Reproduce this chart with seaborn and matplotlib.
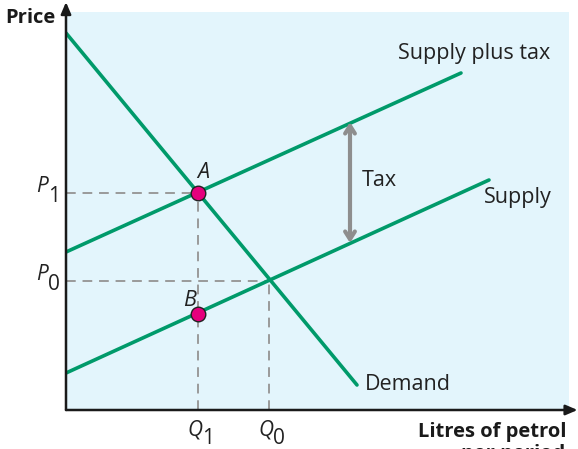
import pandas as pd
import matplotlib.pyplot as plt
import seaborn as sns

# 데이터 (그림에서 읽은 값, 임의 단위)
demand_q = [0, 291]
demand_p = [377, 25]
supply_q = [0, 423]
supply_p = [37, 230]
tax_q = [0, 395]
tax_p = [158, 337]

q1, q0 = 132, 203
p1, p0 = 217, 129
point_names = ['A', 'B']
point_q = [q1, q1]
point_p = [p1, p1 - 121]

tax_arrow_q = 284
tax_arrow_p = [p1 + 71, p1 - 50]

x_ticks = [q1, q0]
x_tick_labels = [('Q', '1'), ('Q', '0')]
y_ticks = [p1, p0]
y_tick_labels = [('P', '1'), ('P', '0')]

sns.set_style('white')
plt.rcParams['font.family'] = ['Open Sans', 'DejaVu Sans']

green = '#009a6a'
grey = '#9a9a9a'
ink = '#222222'

fig = plt.figure(figsize=(5.78, 4.49), dpi=100)
ax = fig.add_axes([66 / 578, 39 / 449, 503 / 578, 398 / 449])
ax.set_facecolor('#e3f5fc')
ax.set_xlim(0, 503)
ax.set_ylim(0, 398)

# 점선
dash = dict(color=grey, lw=1.4, ls=(0, (5, 3.5)), zorder=1)
ax.plot([0, q1], [p1, p1], **dash)
ax.plot([q1, q1], [0, p1], **dash)
ax.plot([0, q0], [p0, p0], **dash)
ax.plot([q0, q0], [0, p0], **dash)

# 곡선
lines = pd.concat([
    pd.DataFrame({'line': 'Demand', 'q': demand_q, 'p': demand_p}),
    pd.DataFrame({'line': 'Supply', 'q': supply_q, 'p': supply_p}),
    pd.DataFrame({'line': 'Supply plus tax', 'q': tax_q, 'p': tax_p}),
])
for name, g in lines.groupby('line'):
    sns.lineplot(data=g, x='q', y='p', color=green, lw=2.6, ax=ax,
                 estimator=None, sort=False, zorder=2)

# 세금 화살표
ax.annotate('', xy=(tax_arrow_q, tax_arrow_p[0]), xytext=(tax_arrow_q, tax_arrow_p[1]),
            arrowprops=dict(arrowstyle='<->,head_length=0.55,head_width=0.35',
                            color='#8e8e8e', lw=3, shrinkA=0, shrinkB=0), zorder=2)

# 점 A, B
pts = pd.DataFrame({'name': point_names, 'q': point_q, 'p': point_p})
sns.scatterplot(data=pts, x='q', y='p', color='#e5007d', edgecolor='#222222',
                linewidth=1.0, s=110, ax=ax, zorder=3, legend=False)

txt = dict(fontsize=15.5, color=ink)
ax.text(332, 356, 'Supply plus tax', va='center', ha='left', **txt)
ax.text(418, 212, 'Supply', va='center', ha='left', **txt)
ax.text(299, 25, 'Demand', va='center', ha='left', **txt)
ax.text(296, 230, 'Tax', va='center', ha='left', **txt)
ax.text(137, 238, 'A', fontstyle='italic', va='center', ha='center', **txt)
ax.text(124, 110, 'B', fontstyle='italic', va='center', ha='center', **txt)

# 눈금 라벨 (기호 + 같은 크기의 아래첨자)
ax.set_xticks(x_ticks, [''] * len(x_ticks))
ax.set_yticks(y_ticks, [''] * len(y_ticks))
ax.tick_params(length=0)
for v, (sym, sub) in zip(y_ticks, y_tick_labels):
    tr = ax.get_yaxis_transform()
    ax.annotate(sym, xy=(0, v), xycoords=tr, xytext=(-18, 7), textcoords='offset pixels',
                ha='right', va='center', fontstyle='italic', fontsize=15, color=ink,
                annotation_clip=False)
    ax.annotate(sub, xy=(0, v), xycoords=tr, xytext=(-18, -4), textcoords='offset pixels',
                ha='left', va='center', fontsize=15, color=ink, annotation_clip=False)
for v, (sym, sub) in zip(x_ticks, x_tick_labels):
    tr = ax.get_xaxis_transform()
    ax.annotate(sym, xy=(v, 0), xycoords=tr, xytext=(4, -20), textcoords='offset pixels',
                ha='right', va='center', fontstyle='italic', fontsize=15, color=ink,
                annotation_clip=False)
    ax.annotate(sub, xy=(v, 0), xycoords=tr, xytext=(4, -29), textcoords='offset pixels',
                ha='left', va='center', fontsize=15, color=ink, annotation_clip=False)
ax.set_xlabel('')
ax.set_ylabel('')
for s in ax.spines.values():
    s.set_visible(False)

# 축 화살표
arrow = dict(arrowstyle='-|>,head_length=0.7,head_width=0.3', color='#1a1a1a',
             lw=1.8, shrinkA=0, shrinkB=0)
ax.annotate('', xy=(0, 1.025), xytext=(0, 0), xycoords='axes fraction',
            arrowprops=arrow, annotation_clip=False)
ax.annotate('', xy=(1.017, 0), xytext=(0, 0), xycoords='axes fraction',
            arrowprops=arrow, annotation_clip=False)

fig.text(5 / 578, 1 - 18 / 449, 'Price', fontsize=14.5, fontweight='bold',
         va='center', ha='left', color='#1a1a1a')
fig.text(567 / 578, 1 - 437 / 449, 'Litres of petrol', fontsize=14.5,
         fontweight='bold', va='baseline', ha='right', color='#1a1a1a')
fig.text(565 / 578, 1 - 459 / 449, 'per period', fontsize=14.5,
         fontweight='bold', va='baseline', ha='right', color='#1a1a1a')

fig.savefig('out.png', dpi=100)
